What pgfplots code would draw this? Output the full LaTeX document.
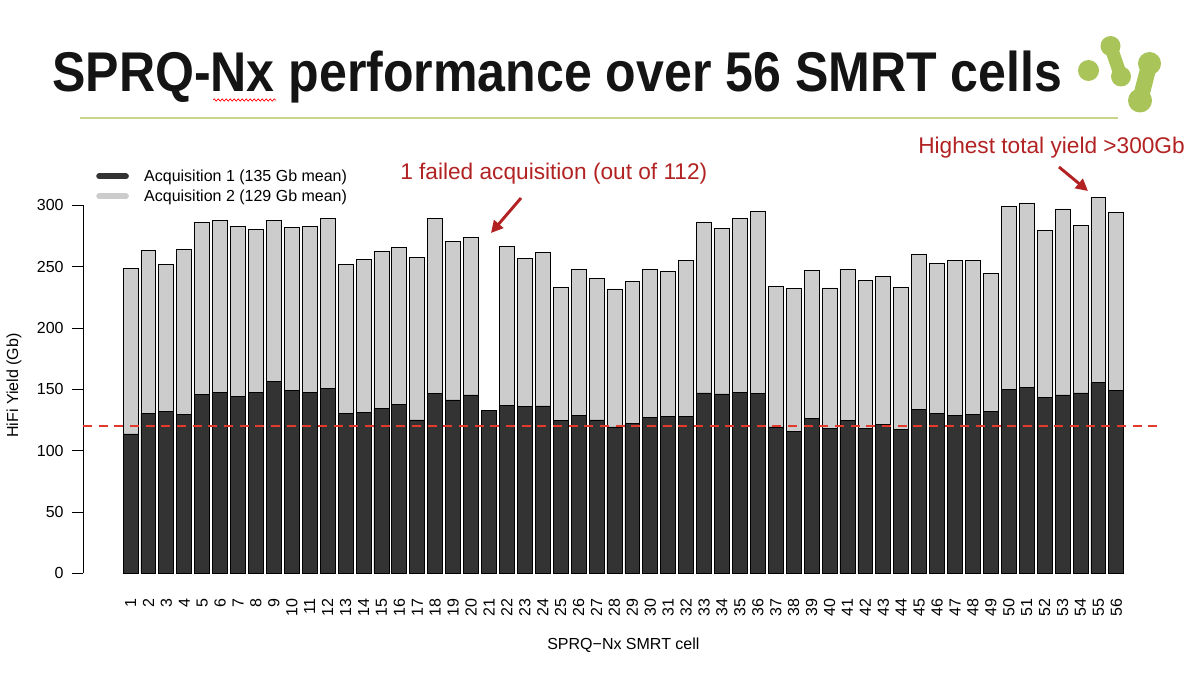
\documentclass[border=0pt]{standalone}
\usepackage{fontspec}
\setmainfont{Liberation Sans}
\usepackage{graphicx}
\usepackage{pgfplots}
\pgfplotsset{compat=1.18}
\usepackage{pgfplotstable}
\usetikzlibrary{arrows.meta,decorations.pathmorphing}
\definecolor{acqdark}{RGB}{51,51,51}
\definecolor{acqlight}{RGB}{204,204,204}
\definecolor{annred}{RGB}{178,34,34}
\definecolor{dashred}{RGB}{226,58,44}
\definecolor{logogreen}{RGB}{169,196,88}
\definecolor{rulegreen}{RGB}{200,214,140}

% cell, acquisition 1 yield, total yield (Gb)
\pgfplotstableread{
cell a1 total
1 113.6 248.6
2 130.4 263.3
3 132.1 251.6
4 129.6 263.8
5 145.9 286.1
6 147.5 288.0
7 144.3 282.6
8 147.2 280.1
9 156.2 287.7
10 148.9 282.3
11 147.8 282.6
12 150.8 289.4
13 130.4 252.1
14 131.5 256.2
15 134.2 262.7
16 137.7 265.4
17 125.0 257.6
18 146.4 289.1
19 141.3 270.3
20 145.4 273.9
21 132.6 132.6
22 137.2 266.3
23 135.8 257.0
24 136.4 261.4
25 124.4 232.8
26 128.8 247.5
27 125.0 240.7
28 119.3 231.8
29 122.0 237.7
30 127.4 247.5
31 128.2 246.2
32 127.7 254.8
33 147.0 286.4
34 146.2 280.9
35 147.8 289.1
36 146.7 294.8
37 119.3 234.2
38 115.7 232.0
39 126.3 246.7
40 118.2 232.6
41 124.4 247.8
42 118.4 238.5
43 121.4 242.1
44 117.6 232.8
45 133.9 260.3
46 130.4 252.9
47 128.5 254.8
48 129.3 255.1
49 132.3 244.5
50 149.7 299.4
51 151.6 301.9
52 143.7 279.6
53 145.4 297.0
54 147.0 283.9
55 155.4 306.2
56 149.2 294.3
}\yields

\begin{document}
\begin{tikzpicture}
\begin{scope}[x=0.75pt,y=-0.75pt]
\path[use as bounding box] (0,0) rectangle (1200,674);
% title
\node[anchor=base west, inner sep=0pt, text=black!92] at (52,92)
  {\fontsize{42}{48}\selectfont\bfseries\scalebox{0.894}[1]{SPRQ-Nx performance over 56 SMRT cells}};
\draw[red, line width=0.5pt, decorate, decoration={snake, amplitude=0.9pt, segment length=3pt}] (213,100) -- (276,100);
% rule
\draw[rulegreen, line width=1.3pt] (80,118) -- (1118,118);
% logo
\fill[logogreen] (1088.5,70.5) circle (10.5);
\fill[logogreen] (1110.5,46) circle (10);
\fill[logogreen] (1121,76.5) circle (10);
\draw[logogreen, line width=10pt] (1110.5,46) -- (1121,76.5);
\fill[logogreen] (1149.5,63.5) circle (11.5);
\fill[logogreen] (1140,100.5) circle (12);
\draw[logogreen, line width=12pt] (1149.5,63.5) -- (1140,100.5);
% annotations
\node[anchor=base west, inner sep=0pt, text=annred, font=\fontsize{17}{20}\selectfont] at (400,179) {1 failed acquisition (out of 112)};
\node[anchor=base west, inner sep=0pt, text=annred, font=\fontsize{17}{20}\selectfont] at (918,153) {Highest total yield >300Gb};
\draw[annred, line width=2.2pt, -{Triangle[length=9pt,width=9pt]}] (521,198) -- (491,233);
\draw[annred, line width=2.2pt, -{Triangle[length=9pt,width=9pt]}] (1059,167) -- (1088,191);
\end{scope}
\begin{axis}[
  at={(62.25pt,-429.98pt)}, anchor=south west,
  scale only axis, width=810.6pt, height=276pt,
  xmin=-1.65, xmax=58.65, ymin=0, ymax=300,
  clip=false,
  axis lines*=left,
  x axis line style={draw=none},
  y axis line style={line width=0.6pt},
  ytick={0,50,...,300},
  xtick={1,...,56},
  tick align=outside,
  major tick length=8pt,
  ytick style={line width=0.6pt, black},
  xtick style={draw=none},
  /pgf/number format/assume math mode=true,
  tick label style={font=\fontsize{12}{14}\selectfont},
  yticklabel style={anchor=east, xshift=-3pt},
  xticklabel style={yshift=-8.5pt, rotate=90, anchor=east, inner sep=2pt},
  xlabel={SPRQ−Nx SMRT cell},
  ylabel={HiFi Yield (Gb)},
  label style={font=\fontsize{12}{14}\selectfont},
  xlabel style={at={(axis description cs:0.5,-0.1948)}, anchor=center},
  ylabel style={at={(axis description cs:-0.0638,0.510)}, anchor=center},
  ybar, bar width=0.8333,
  legend style={at={(axis description cs:0.012,1.105)}, anchor=north west, draw=none, fill=none,
    font=\fontsize{12}{14}\selectfont, row sep=0.8pt, inner sep=0pt,
    /tikz/every odd column/.append style={column sep=9.5pt}},
  legend cell align=left,
]
\addlegendimage{legend image code/.code={\draw[line width=4.5pt,line cap=round,acqdark] (0pt,0pt) -- (20pt,0pt);}}
\addlegendentry{Acquisition 1 (135 Gb mean)}
\addlegendimage{legend image code/.code={\draw[line width=4.5pt,line cap=round,acqlight] (0pt,0pt) -- (20pt,0pt);}}
\addlegendentry{Acquisition 2 (129 Gb mean)}
\addplot[forget plot, fill=acqlight, draw=black, line width=0.6pt, bar shift=0pt] table[x=cell, y=total] {\yields};
\addplot[forget plot, fill=acqdark, draw=black, line width=0.6pt, bar shift=0pt] table[x=cell, y=a1] {\yields};
\addplot[forget plot, sharp plot, dashred, line width=1.5pt, dash pattern=on 6.75pt off 5pt] coordinates {(-1.65,120) (58.65,120)};
\end{axis}
\end{tikzpicture}
\end{document}
